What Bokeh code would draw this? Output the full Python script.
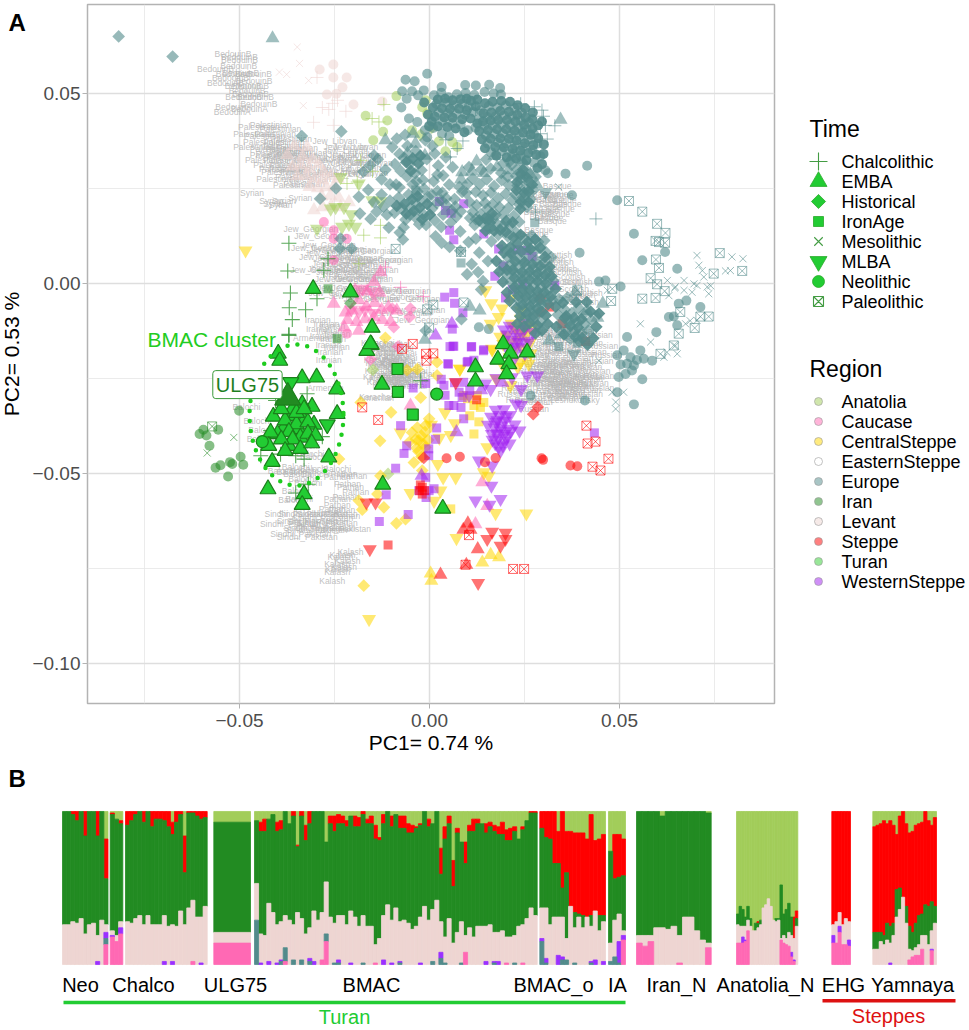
from math import pi

from bokeh.core.properties import value
from bokeh.embed import file_html
from bokeh.layouts import column, row
from bokeh.models import FixedTicker, Label, Range1d
from bokeh.plotting import figure
from bokeh.resources import INLINE

FONT = "Liberation Sans"

# ---- panel A, all coordinates are PC1, PC2 x 1000 ----
europe_hist = [(-81.8,65),(-67.6,59.7),(-23.2,40),(-33.6,38.8),(-9.8,35.9),(-14.6,33.7),(-13.6,32.7),(-11.6,29.9),(-8.8,26),
    (-12.6,27.4),(-24.6,25),(-28.8,22.3),(-18.6,22.8),(-14.6,21.4),(-18.3,18.4),(-15.5,17),(-10.7,14.7),(-7.8,13.4),(-7,11.6),
    (-23.4,11.8),(-23.6,9.2),(-20.5,9.2),(-1,-12.4),(-12.1,20.2),(-10.4,21.8),(-9.2,18.6),(-8.1,22.6),(-7.2,19.8),(-6.3,16.8),
    (-5.5,23.4),(-4.6,20.4),(-3.9,17.6),(-3.2,24.2),(-2.4,21.6),(-1.6,18.2),(-0.9,15.4),(-0.4,22.8),(0.7,19.7),(1.4,16.6),(2.1,24.3),
    (-11.2,18.1),(-6.8,14.8),(-5.1,18.1),(-2.7,15.6),(1.9,21.2),(3.6,18.1),(4.4,22.4),(3.1,14.9),(5.6,16.1),(6.8,20.2),(8.1,13.7),
    (-4.4,26.1),(-1.7,27.2),(1.1,26.9),(-7.9,25.3),(-6.7,33.1),(-5.2,31.4),(-3.6,34.8),(-2.1,29.8),(-0.7,32.7),(0.8,36.2),(2.3,31),
    (3.6,28.4),(-3.8,29),(-5.8,36.2),(-1.1,37.7),(1.4,34.2),(4.3,33.2),(6.1,30.6),(2.1,28.6),(5.2,26),(7.9,25.4),(3.4,23.9),(6.6,22.2),
    (9.7,23.8),(8.2,19),(10.7,17.2),(11.9,15.4),(1.6,12.4),(3.2,10.7),(5.3,9.6),(8.1,8.6),(10.3,10.9),(12.2,11.8),(13.1,8.1),(15.4,5.9),
    (11.1,5.1),(12.8,3),(14.1,0.6),(9.9,2.4),(21.6,31.2),(23.1,30.1),(24.8,31.6),(25.9,29.3),(22.8,28.3),(24.3,27.4),(26.1,26.7),(27.9,28.1),
    (23.2,25.8),(25.2,25),(27.4,24.6),(22.6,23.4),(24.6,22.6),(26.6,22.2),(23.7,20.8),(25.7,20.1),(13.5,18.2),(15.2,19.6),(16.9,17.1),
    (14.1,15.8),(12.2,16.9),(15.8,14.4),(17.8,15.6),(19.3,18.1),(20.8,19.9),(22.2,17.8),(19.4,15.1),(21.3,14.9),(23.6,16.2),(18.1,12.8),
    (20.6,12.4),(22.9,13.3),(24.9,11.9),(26.9,12.6),(28.6,10.9),(30.2,11.3),(25.8,9.6),(27.8,8.6),(30.6,8.3),(32.1,6.9),(16.3,11.1),
    (20.6,6.9),(22.3,7.6),(24.1,6.1),(26.1,7.1),(28.1,6.1),(30.2,5.4),(19.4,4.6),(21.4,5.1),(23.4,4.1),(25.4,4.6),(27.4,3.9),(29.4,3.4),
    (31.4,3.1),(20.3,2.4),(22.4,2.6),(24.4,1.9),(26.4,2.1),(28.4,1.6),(30.4,1),(32.6,0.7),(21.4,0.4),(23.4,-0.1),(25.4,-0.4),(27.4,-0.6),
    (29.4,-0.9),(31.4,-1.6),(22.4,-2.1),(24.4,-2.4),(26.4,-2.7),(28.4,-3.1),(30.4,-3.6),(23.4,-4.3),(25.4,-4.7),(27.4,-5.2),(29.4,-5.6),
    (24.6,-6.8),(26.6,-7.2),(28.6,-7.9),(25.2,-9.1),(27.2,-9.6),(29.1,-10.1),(33.8,-8.2),(35.6,-6.9),(37.4,-7.8),(39.2,-6.4),(40.6,-8),
    (34.8,-10.4),(36.9,-9.9),(38.8,-10.2),(40.9,-10.7),(42.6,-9.6),(36.2,-12.2),(38.1,-12.7),(40,-13.1),(41.8,-12.4),(37.1,-14.6),(39.4,-15.2),
    (32.4,-4.4),(34.1,-4.1),(36.3,-3.7),(13.6,-1.6),(8.4,-9.4),
    (11.4,27.6),(13.2,26.1),(15.1,27.4),(17,25.6),(19,27.2),(20.9,25.9),(12.2,24.1),(14.1,23.2),(16.2,23.9),(18.1,22.4),(20.1,23.6),(21.8,21.9),(10.6,21.4),(12.4,20.6),(14.6,21.2),
    (16.6,20.8),(18.4,20.1),(11.4,18.8),(13.6,29.9),(16.1,30.2),(18.9,29.1),(20.6,28.1),(9.9,26.1),(8.6,24.1),(10.4,30.6),(14.9,32.6),(19.4,31.6),(21.1,32.1),(17.4,18.1),(7.1,17.6),
    (5.9,19.1),(4.4,20.6),(3.1,21.9),(0.6,23.4),(-1.4,24.9),(-3.4,26.9),(-5.9,28.1),(-7.6,29.6),(-9.1,31.4),(-10.4,26.1),(-12.6,23.4),(-13.9,18.9),(-16.1,24.6),(-17.4,29.4),
    (-15.6,31.1),(-7.9,34.1),(-8.6,38.1),(-6.4,39.1)]
europe_hist_core = [(23.1,26.7),(24.1,28.8),(25.6,27.9),(22.9,24.6),(24.9,23.9),(26.1,24.2),(24.1,21.6),(26.1,21.4),(24.6,29.9),(27,26),(23.9,19.6),(14.6,17.1),
    (15.9,16),(13.1,16.6),(16.4,18.4),(14.8,13.9),(17,13.9),(18.6,14.1),(20.2,16.4),(20.1,13.6),(21.9,16.1),(22.1,12.1),(24,12.8),(25.9,10.9),(27.8,11.6),(26.6,9.1),
    (29.1,9.4),(23.1,10.4),(21.3,9.6),(24.2,8.4),(19.1,9.9),(22.6,5.8),(25,5.6),(27.1,5),(29.1,4.6),(20.4,3.6),(21.9,3.6),(24.4,3),(26.4,3.1),(28.4,2.6),(30.4,2.2),
    (22.4,1.4),(24.4,0.9),(26.4,0.9),(28.4,0.6),(30.6,-0.1),(22.4,-0.9),(24.4,-1.3),(26.4,-1.6),(28.4,-2),(30.2,-2.3),(23.4,-3.2),(25.4,-3.5),(27.4,-4),(29.1,-4.4),
    (24.4,-5.6),(26.4,-6),(28.4,-6.6),(25.6,-8),(27.4,-8.4),(26.4,-10.4),(28.4,-11),(29.6,-7.4),(-6.6,20.9),(-4.6,22.1),(-2.6,19.9),(-0.6,20.9),(-6.1,18.4),(-4.1,19.1),
    (-1.9,16.9),(-8.6,20.4),(-3.1,22.9),(0.1,18.1),(-6.1,31.9),(-4.4,32.9),(-2.9,31.6),(-4.9,29.6),(-2.4,33.6),(36,-8.6),(38.1,-9),(40,-9.4),(37.1,-11.1),(39.1,-11.6),
    (35.6,-9.1),(38.4,-14),(40.2,-14.4),(15.6,16.9),
    (19.6,8.1),(21.4,7.9),(30.4,7),(31.6,4.4),(32.1,1.9),(33.2,-1.4),(31.9,-3.4),(31.2,-5.4),(30.6,-8.4),(31.1,-10.6),(33.2,-6.1),(23.9,-8.6),(22.9,-6.4),(21.1,-4.6),(20.4,-2.4),
    (19.3,0.4),(18.4,3.1),(17.6,5.9),(23.1,-10.6),(24.9,-11.4),(27.9,-13.1),(29.6,-12.4),(42.4,-7.4),(43.9,-11.4),(44.6,-7.9),(41.4,-4.9),(38.6,-4.9),(35.1,-5.1),(33.4,-11.4),
    (35.4,-13.4),(43.1,-14.4),(41.6,-16.1)]
europe_neo = [(-6.3,53.6),(-3.9,53.2),(-7.2,50.6),(-4.6,50.6),(-1.5,50.8),(-6,48.6),(-3,49.5),(-7.4,46.3),(-5.4,43.4),(-3.2,42.5),(-1.2,40.3),
    (-0.6,55.2),(-0.6,38.5),(1.2,49.5),(3.1,50.2),(5,49),(7.2,49.8),(9.5,50.1),(11.8,49.6),(14.5,50.4),(16.9,50),(18.8,49.7),(1.8,47.2),(4.2,47.6),
    (6.4,46.9),(8.6,47.3),(10.3,46.5),(2.4,45),(4.8,44.8),(7.1,44.6),(9.4,44.4),(11.6,45.1),(13.4,45.6),(15.6,46.7),(17.9,46.3),(20.1,46.9),
    (22.4,46.1),(24.3,44.9),(13,43.2),(15.2,43.8),(17.4,44),(19.6,44.2),(21.8,44),(24,42.8),(26.2,42.4),(12.1,41),(14.4,41.5),(16.6,41.6),(18.9,41.9),
    (21.2,41.7),(23.4,40.9),(25.6,40.5),(27.5,39.3),(14.8,39),(17.1,39.3),(19.3,39.5),(21.5,39.2),(23.7,38.6),(26,37.8),(28.4,36.8),(15.3,36.8),
    (18,37.1),(20.2,36.9),(22.5,36.4),(24.6,36),(27.1,35.2),(16.2,34.5),(19.1,34.8),(21.7,34.2),(24,33.6),(27.5,31.8),(29.2,33.5),(3.4,42.7),(6,42.2),
    (8.2,41.8),(10.1,40.3),(1,40.9),(3.3,39.4),(5.2,38.8),(9.4,52.2),(12.2,52.1),(15.7,52.3),(18.6,51.4),(3.2,51.7),(30.5,29.8),(31.2,29),
    (41.5,31),(35.8,28.9),(37.5,23.2),(49.4,21.9),(53.8,13.1),(39.5,8.1),(62,8.3),(56,6.1),(65.2,3.9),(44.6,0.5),(46.3,0.8),(50.3,-0.8),(65.6,-5.3),
    (67.6,-4.5),(71.3,-6.2),(63,-8.8),(64.3,-8.7),(65.2,-11),(59.7,-12.8),(52,-14.1),(49.4,-18.9),(51.1,-17.6),(55.5,-17.6),(52.9,-19.4),(56.4,-19.8),
    (58.6,-20.3),(50.3,-21.3),(52,-21.1),(53.8,-21.6),(54.6,-20.1),(53.3,-22.9),(56,-25.2),(49.8,-24.6),(51.6,-23.8),(40.9,-30.8),(49.4,-28.6),
    (53.8,-31.8),(26.6,-29.5),(13,-11.5),(15.6,-12)]
europe_neo_core = [(2.2,48.4),(4.1,48.6),(6.1,48.2),(8.2,48.5),(9.8,48.6),(3.3,46.1),(5.4,45.9),(7.8,46),(9.8,45.6),(0.9,46.3),(1.4,43.9),(3.9,43.7),(6.1,43.6),(8.6,43.2),
    (10.8,43.4),(0.6,42.6),(2.2,41.4),(4.7,41.2),(6.9,40.8),(9.2,39.8),(12.2,46.6),(14.6,47.4),(16.6,47.8),(18.9,48),(21.2,47.8),(23.2,46.9),(25.2,46.1),(27.2,45),(14.2,44.8),
    (16.3,45),(18.6,45.4),(20.9,45.2),(23.1,44.4),(25.3,43.7),(27.1,43.2),(12.6,42.1),(14.1,42.6),(16.1,42.8),(18.1,43),(20.4,43),(22.6,42.6),(24.9,41.8),(27.1,40.8),(28.6,41.6),
    (13.1,40.1),(15.4,40.4),(17.8,40.6),(20.2,40.6),(22.4,40.2),(24.6,39.7),(26.6,39.1),(28.6,38.2),(13.8,37.9),(16.1,38.1),(18.6,38.2),(20.9,38.1),(22.9,37.6),(25.1,36.9),
    (27.3,36.4),(14.6,35.6),(17.3,35.9),(19.6,35.8),(21.9,35.4),(23.9,34.9),(26,34.3),(28.1,33.9),(17.6,33.6),(20.3,33.2),(22.8,32.9),(25.5,32.4),
    (30,34.1),(29.6,31.4),(28.4,30.4),(30.1,36.6),(29.6,42.6),(10.9,48.1),(12.6,48.4),(-0.4,44.4),(-1.4,47.6),(-0.1,41.4)]
europe_emba = [(-41.3,64.5),(-11.6,37.7),(-4.3,39.4),(-3.7,36.8),(-5.8,34.2),(-1.2,33.6),(34.5,43.1),(8.6,29.3),(11.2,29.5),(14.3,29.1),(17.8,30.6),
    (20.8,29.8),(24.4,32.5),(12.4,32.1),(17.1,33.6),(21.8,33.4),(8.3,27.4),(26.6,28.6),(28.1,26.2),(38.4,-2.3),(45.6,-5.3),(41.4,-7.2),(44.2,-9),
    (13.2,-7.1),(10.6,-6.1),(34.6,-13.4),(31.5,-15),(-1.2,-14.8)]
europe_mlba = [(30.5,24),(38,-18.5)]
europe_iron = [(34,-16.6),(38.9,-15.7),(8.3,5.4),(27.7,16),(-3.6,24.6)]
europe_chalco = [(24,47.3),(29.6,45.6),(30.5,41.6),(29.2,39.4),(7.3,35.5),(5.5,33.3),(30,44),(33,41.5),(27.6,46.5),(31,38),(43.8,17),(27.9,18.8),
    (8.8,37.5),(4.3,37.8),(12.1,45.8)]
europe_meso = [(34,25.4),(70.4,7.4),(79.6,7),(82.5,6.5),(77.9,3.3),(79.2,3.4),(70.9,4.8),(71.8,3.4),(67,0.8),(69.6,-0.1),(70.4,-0.5),(73.1,-0.9),
    (73.5,-2.7),(69.1,-2.3),(67,-1.8),(64.7,-0.9),(62.6,0.8),(72.2,1.7),(74,-0.6),(64.5,-1.2),(63,-3.2),(55.5,-10.6),(58.2,-15.4),(44.6,-20.3),
    (46.8,-1.8),(65.2,-18.5),(62.5,-18.1),(64.7,-16.4),(67.4,-10.6),(70.4,-9.7),(48.1,-28.6),(51.1,-28.6),(49,-31.2),(49,-33),(61.7,-19.4),(68.6,-9.8)]
europe_paleo = [(52.5,21.7),(56,18.9),(59.9,15.7),(62.1,13.3),(59.5,11.2),(60.4,10.9),(62,10.7),(59.6,6.3),(60.4,4.1),(58.2,1.4),(59.9,-0.2),(61.9,-2),
    (59.5,-3.8),(56,-4),(76.4,8),(82.3,3.3),(74.8,2.6),(73.5,-8.7),(71.3,-8.7),(65.6,-13.2),(69.8,-11.7),(66,-7.5),(60.8,-18.5),(64.3,-16.3),(48.1,-1.4),
    (47.8,-4.6),(38.9,-1.8),(8.3,8.3),(-8.9,9.1),(-0.6,-6.8),(-0.1,-11.6),(9,-5),(1,-5.6)]
levant_emba = [(-37.4,33.8),(-35.6,36.2),(-33.4,33.4),(-32.2,35.9),(-30.8,32.6),(-36.1,30.8),(-33.9,31.1),(-31.6,30.2),(-29.1,31.4),(-27.8,29.3),
    (-34.8,28.2),(-32.4,28.4),(-30.2,27.6),(-28.1,27.2),(-25.9,28.3),(-24.1,27.6),(-31.6,25.4),(-29.4,25.1),(-27.2,25.3),(-25.1,25.6),(-28.4,22.9),
    (-26.1,23.1),(-23.9,22.6),(-30.4,19.3),(-28.1,20.1),(-25.9,20.4),(-23.4,20.1),(-21.2,21.4)]
levant_neo = [(-28.9,56.3),(-25.3,57.6),(-25.3,54.2),(-21.8,54.2),(-22.9,51.6),(-27,49.7),(-24.5,49.9),(-20,47.1),(-12.4,47.9)]
levant_meso = [(-34.8,62.2),(-34.2,57.9),(-39.5,55.6),(-37.6,55),(-31.8,53.4),(-33.2,46.8)]
levant_chalco = [(-25.5,47.4),(-28.2,46.3),(-24.2,48.2),(-22,45.3),(-30.5,42.4),(-25.3,41.6),(-29.6,54.2),(-26.5,45.8)]
anatolia_neo = [(-8.7,49.3),(-16.8,44.1),(-11.1,42.9),(-12.2,39.9),(-14.8,37.7),(-4.6,40.3),(-1.9,46.4),(-0.6,44.7),(-1,48.2),(2.5,37.4),(6,37.2),(4.2,34.8),(7.3,35.9)]
anatolia_chalco = [(-12,47.1),(-15.1,43.4),(-13.3,42.5),(-18.1,32.4),(-21.7,26.3),(-19,26.7),(-17.3,12.7),(-12.9,12),(-12.9,15.3),(-18.6,5.2),(-15,29.5)]
anatolia_mlba = [(-23.4,28),(-18.6,26.3),(-24.7,20.1),(-22.5,20.1),(-21.2,15.7),(-23,14.9),(-29.6,14.4),(-26,19.7),(-19.5,14.9),(-15.1,21.9),(-12.9,21.6),(-20.6,18.2)]
anatolia_hist = [(-14.9,-22.7),(-10.9,-50.1),(-2.4,39.1),(0.6,41)]
caucase_neo = [(-27.8,16.2),(-25.2,14),(-21.8,11.8),(-25.2,11.8),(-25.2,6.1),(-21.7,-13.2)]
caucase_emba = [(-25.2,-5.3),(-12.9,3),(-14.6,0.4),(-16.4,-2.1),(-13.1,-2.4),(-19.6,-1.8),(-22.1,-7.6),(-20.4,-7.1),(-18.6,-4.4),(-16.6,-6.1),(-14.4,-5.1),
    (-12.6,-6.9),(-10.8,-6.3),(-8.6,-7.1),(-21.6,-9.6),(-19.2,-10.1),(-16.9,-9.4),(-14.6,-8.9),(-12.4,-9.6),(-10.2,-10.1),(-18.6,-12.4),(-22.4,-11.6),
    (13.9,-52.3),(-5,-32.1),(15.2,-58.5),(12.1,-63.3)]
caucase_mlba = [(-17.6,-1.4),(-15.1,-2.1),(-17,-6.9),(-14.8,-7.8),(-18.6,-7.4),(-20.6,-6.9)]
caucase_hist = [(-5,-6.6),(-5.2,-8.8),(-9.4,-11.5),(-9.8,-6.6),(-15.5,-19.9),(-8.3,-16.6)]
caucase_chalco = [(-11.6,4.3),(-7.6,-1),(-1.6,-3.4)]
central_mlba = [(-48.4,8.7),(-15.9,-88.3),(25.5,-60.5),(7.1,-67),(6.9,-51),(3.6,-51),(-5,-55.1),(2.9,-54.5),(1.2,-57.2),(17.4,-60.4),(14.3,-49.7),(15.6,-50.6),
    (6.7,-36.8),(4.1,-33.9),(8,-22.5),(15.2,-43.1),(2.2,-47.5),(-7.6,-39.2),(16.5,-17.2),(14.7,-1.8),(16.3,-5.2),(19.1,-6.6),(24,-7.1),(24,-9.3),(16.1,-10.6),
    (18.2,-8.8),(21.3,-4),(25.7,-11),(27,-11.5),(22.6,-11.5),(24.8,-12.4),(16.5,-17.4),(22.2,-17.6),(24,-20.7),(26.1,-21.1),(8,-22.4),(21.3,-26.8),(17.6,-25.1),
    (20.3,-13.6),(23.1,-15),(26.4,-15.6),(19.4,-15.9),(0.4,-37.2),(2.6,-40.6),(5.6,-39.9),(21.6,-10.6),(23.4,-12.9),(25.4,-13.4),(20.9,-15.6),(18.6,-14),(24.6,-17.2),
    (21.1,-19.4),(26.6,-18.4),(23.2,-21.9),(19.4,-21.6)]
central_hist = [(-11.6,-14.3),(-23.8,-46.2),(-10.1,-33.9),(-13,-41.4),(-18.1,-31.3),(-18.6,-57.1),(-17.7,-59.5),(-12,-58.9),(-8.7,-63.1),(-6.3,-62),(-17.3,-79.5),
    (-4.1,-47.1),(-1.9,-49.2),(-12.9,-50.6),(-13.7,-55.4),(-2.3,-30),(2,-20.7),(-5.9,-22.8),(-3.2,-22.5),(2,-24.2),(-2.8,-41.3),(-4.6,-39.2),(-1.2,-39.1),
    (-3.4,-43.3),(-1.1,-43.1),(-0.1,-35.6),(-1,-37.3),(-3.2,-37.9),(-5.3,-41.7),(-0.4,-41.2),(-2.1,-45.6),(-2.1,-40.1),(-3.6,-41),(-1.6,-42.2),(-2.9,-44.2)]
central_emba = [(0.3,-76.3),(0.5,-78.2),(13.9,-73.4),(16.1,-71.4),(18.3,-72)]
central_iron = [(13.4,-32.6),(11.7,-32.1),(14.3,-31.3),(9,-29.5),(11.7,-39.6),(10,-30.3),(12.6,-29.5),(5.6,-59.3),(10.6,-34.8),(13,-36.4)]
west_iron = [(5,-21.2),(11.1,-16.6),(14.2,-17.7),(6.4,-16.5),(5.4,-16.6),(10.1,-20.5),(-4.3,-27.5),(-1,-26.3),(-7.6,-37.4),(1.9,-38),(1.6,-41),(-6,-42.7),(-6.7,-44.7),
    (-0.2,-43.5),(-0.2,-45.3),(-8.9,-48.6),(-1,-51),(-0.1,-54.5),(-2.8,-54.5),(-0.9,-56.3),(1.2,-54),(-11.4,-55.6),(-5.6,-60.8),(-13.2,-62.6),(5.1,-32.1),(6.4,-32.1),
    (9,-35.6),(6.4,-2.4),(4,-3.6),(6.6,-5.2),(8.8,-7.7),(6,-12),(6.2,-16.5),(11,-16.7),(14.3,-17.4),(11.7,-20.2),(4.8,-21.1),(9.9,-20.7),(3.8,-26.8),(9,-26),
    (2.6,21.6),(4.2,19.2),(5.7,18.5),(9,21),(5.3,14),(6.4,11.5),(14.3,13),(18.2,9.1),(23.1,8.9),(25.5,8.7),(27,7.1),(19.4,4.6),(17.2,1.9),(24.6,-0.2),(33,-0.5),
    (21.8,-1.6),(20,-3.8),(7.8,-28.6),(4.1,-29.4),(8.3,-32.6),(43.4,-39.3),(6.6,-26.1),(8.6,-30),(10.6,-28.1),(3.1,-25.2)]
west_mlba = [(18.7,-38.7),(16.2,-35.1),(17.4,-33.2),(19.6,-33.1),(21.2,-34.6),(15.4,-37.2),(17.6,-36.4),(19.9,-36.1),(22.4,-37.1),(16.4,-39.6),(18.1,-40.7),(20.6,-40.1),
    (17.3,-42.1),(19.3,-42.6),(21.1,-42.1),(18.7,-44),(23,-14),(21.1,-11.1),(24.8,-10.4),(27.2,-12.8),(19.6,-12.1),(21.6,-14.8),(24.2,-13.1),(26.2,-15.1),(23.2,-16.8),
    (20.6,-17.4),(25.1,-18.4),(22.1,-20.1),(28.4,-24.2),(25.7,-24.2),(23.7,-38.7),(13,-46.6),(16.5,-47.9),(16.3,-53.2),(18.7,-56.7),(12.1,-57.1),(15.8,-58.2),
    (21.7,-24.7),(17.6,-24.9),(22.8,-31.6),(24.1,-32),(10.4,-29.4),(14.7,-26.3),(16.1,-27.8),(24.1,-27.8),(17.1,-37.9),(18.9,-37.4),(20.6,-38.2),(17.6,-39.4),(19.6,-39.6),
    (21.4,-38.9),(18.4,-34.6),(20.1,-35),(16.6,-41.1),(19.7,-41.4),(18.2,-42.9),(17.9,-36),(22.6,-12.1),(20.6,-13.4),(25.1,-11.9),(23.4,-15.4),(22.1,-16.6),(25,-15.6)]
west_emba = [(7.1,-39.1),(13.6,-28.1),(19.2,-26.1),(5.9,-10.6),(-2.1,-50.6),(1.6,-13.7)]
steppe_neo = [(4.5,-46),(8,-45.6),(17.4,-45.9),(14.6,-47),(29.9,-46.4),(38.9,-48.1),(29.2,-7.5),(37.1,-47.9),(29.5,-46)]
steppe_mlba = [(-16.6,-57.6),(-14.2,-57.6),(-15.7,-69.9),(12.8,-78.8),(16.5,-65.3),(15.2,-67.2),(20,-65.6),(20,-67.2),(18.7,-69),(6.9,-26)]
steppe_emba = [(10.1,-63.1),(8.9,-64.8),(10.8,-64.8),(12.7,-69.9),(2.9,-76.6),(9.7,-74)]
steppe_iron = [(31.6,-6.2),(34.9,-10.6),(41.1,-15.2),(-10.9,-68.8),(-1.9,-53.6),(-2.6,-54.5),(-1.3,-54.5),(-1.9,-55.4),(-2.4,-53),(12.4,-30.6)]
steppe_hist = [(29.2,-3.8),(28.5,-32.5),(27.3,-34.4),(-1.5,-45.9)]
steppe_paleo = [(-17.7,-32.6),(-13.5,-35.9),(-7.2,-17.2),(-4.4,-15.9),(-0.9,-18.5),(1,-18.4),(-0.8,-20.3),(10.4,-66.2),(9.5,-74),(22,-75.1),(24.9,-75.1),(41.3,-37.4),
    (41.6,-42.1),(43.7,-41.6),(42.9,-48.2),(45,-49.2),(47.1,-46.1)]
iran_neo = [(-50.1,-33.5),(-60.5,-39.6),(-59.5,-38.5),(-58.7,-40),(-55.6,-38.5),(-57.9,-42.7),(-56.3,-48.5),(-55,-47.8),(-52.5,-47),(-51.9,-47.5),(-49,-47.7),(-49.7,-45.6),(-53,-50.8)]
iran_meso = [(-51.5,-40.5),(-58.5,-44.6)]
iran_iron = [(-26.7,-1.4),(-24.3,-14.5)]
iran_hist = [(-20.8,-5.2)]
iran_paleo = [(-57.2,-37.6)]
turan_chalco = [(-37,10.6),(-37.3,3.3),(-36.6,-2.5),(-29.6,-4),(-36.9,-6.4),(-32.6,-6.9),(-36.1,-9.5),(-37,-13.4),(-26.7,6.5),(-27.8,3.5),(-37,-13.7),(-32.2,-29),(-40.5,-30.8),
    (-28.2,-40.3),(-44.4,-45.3),(-39.2,-44.9),(-35.2,-45.3),(-33,-46.2),(-31.9,-52.8),(-35.2,-55.1),(-41.8,-38.7),(-2.3,-25.6)]
turan_emba = [(-39.8,-18.4),(-39.4,-20.3),(-33.5,-24.9),(-29.7,-24.7),(-24.4,-27.8),(-30.9,-32.4),(-24.3,-34.3),(-41.1,-35),(-36.5,-34.8),(-33.5,-31.7),(-30.4,-37.1),(-34.5,-38.3),
    (-38.5,-38.3),(-40,-39.6),(-41.8,-39.2),(-37,-42.7),(-42.3,-42.7),(-26.5,-45.7),(-41.4,-46.9),(-42.5,-54.1),(-33,-55.4),(-33.5,-58.2),(-15.3,-16.1),(-16.5,-17.7),(-12.5,-26.6),
    (-12.3,-52.9),(3.5,-59.2),(12.1,-22),(12.1,-25.7),(19.4,-15.9),(21.3,-18.4),(25.7,-18.1),(18,-20),(20.9,-21.2),(20.3,-23.8),(-30.6,-1.4),(-20.8,-2.3),(-15.1,-11.6),(-15.5,-15.9),
    (-36,-33),(-38,-36),(-33,-36),(-35,-37),(-32,-36.5),(-37,-39),(-34,-40.5),(-36,-41),(-39,-41),(-32,-39.5),(-30,-40),(-38,-44),(-34,-43.5),(-31,-42),(-35,-34),(-33,-33),(-39,-33)]
turan_mlba = [(-36.5,-26),(-26.9,-37.1)]
turan_iron = [(-8.4,-22.5),(-8.3,-28.5),(-4.4,-34.5)]
turan_neo = [(1.9,-29.1),(-44,-41.6)]
ulg75 = [(-37.3,-30)]
cluster_ellipse = (-35, -34.6, 24.7, 37.1)

# reference populations drawn as faint text
bedouin_b = [(-51.7,60.5),(-50,58.9),(-50.2,57.1),(-56.3,56.5),(-49.7,55.4),(-52.4,54.1),(-46.2,53.4),(-53.7,52.7),(-47.1,51.9),(-48,50.6),(-47.1,49.8),(-48.9,49.1),(-45.8,49.1),
    (-44.9,47.1),(-51.4,55.1),(-46.3,55.2),(-49,52),(-50,59.6)]
bedouin_a = [(-51.5,46.4),(-51.9,45.1),(-47.4,45.9)]
palestinian = [(-41.8,41.6),(-44.9,41.2),(-39.2,40.7),(-46.2,39.4),(-40.6,39.4),(-43.6,37.2),(-38.3,37.2),(-46.2,35.9),(-41.8,35.5),(-36.6,34.6),(-41.8,33.7),(-34.8,33.7),(-43.1,32.4),
    (-38.3,32.4),(-32.2,32.4),(-40.9,31.1),(-36.6,31.1),(-31.3,30.6),(-38.8,29.3),(-33.9,29.3),(-29.6,28.9),(-40.1,27.4),(-33,26.3),(-35.7,25.8),(-40.3,34.1),(-37.6,35.4),(-39.4,30.1),
    (-35.1,28),(-31.4,27.6),(-36.4,38),(-43.4,38.8),(-38.3,36.1),(-34.8,35.6),(-32.4,34.4),(-37.4,33.4),(-36.8,30)]
jew_north = [(-24.9,37.4),(-22,36),(-19.4,35.9),(-24.9,33.3),(-20.8,33.7),(-17.3,33.8),(-23.4,32),(-20,31.8),(-15.6,31.8),(-22.6,30.2),(-18.6,30.3),(-24,29.4),(-20.6,28.8),(-16.8,29),
    (-28.5,33),(-22.1,34.9),(-18.6,32.6)]
syrian = [(-46.7,23.7),(-41.6,21.6),(-40.6,20.8),(-39.2,20.6),(-38.3,21.8),(-34,22.4)]
druze_mix = [(-31.2,14.4),(-28.4,12.4),(-26.6,10.2),(-29.2,9.4),(-24.4,9.1),(-21.2,8.8),(-27.1,6.9),(-23.4,6.6),(-19.6,6.8),(-16.1,8.6),(-14.6,6.2),(-11.6,6.1),(-29.4,3.5),(-24.9,3.8),
    (-21.6,4.8),(-18.4,3.6),(-15.4,3.5),(-23,1.2),(-19.8,1.1),(-16.8,1.1),(-22.4,-1.1),(-18.6,-1.1),(-14.6,-1.4),(-24.6,-2.4),(-19.2,-3.4),(-15.4,-4.1),(-21.1,5.9),(-17.8,5),(-23.8,5.2),
    (-20.4,2.6),(-18.2,2.1),(-25.6,8),(-22.6,3.1),(-11.2,-1.9),(-6.8,-2.1),(-4.4,-4.1),(-8.6,-3.6),(-3.1,-6.9),(-6.6,-7.8),(-1.9,-9.6)]
iranian = [(-29.4,-9.6),(-27.1,-10.6),(-25.6,-11.1),(-29.1,-12.1),(-26.4,-12.4),(-24.2,-13.4),(-28.1,-13.9),(-25.4,-14.6),(-26.6,-16.1),(-24.4,-16.6),(-26.1,-18.1),(-26.5,-20.2)]
karachai = [(-13.6,-15.6),(-11.6,-16.1),(-9.6,-15.9),(-7.8,-18.4),(-13.4,-18.1),(-11.2,-18.4),(-9.1,-19.1),(-12.9,-20.1),(-10.6,-20.6),(-8.1,-20.4),(-6.1,-21.1),(-11.8,-21.6),(-9.4,-22.1),
    (-7.2,-22.6),(-4.9,-22.9),(-12.6,-23.1),(-10.1,-23.6),(-7.8,-24.1),(-5.6,-24.2),(-3.1,-23.9),(-11.4,-25.1),(-8.6,-25.4),(-6.1,-25.8),(-10.6,-26.6),(-14.1,-29.9),(-5.1,-27.1),(-13.1,-24.7),
    (-12.1,-17.1),(-10.4,-17.3),(-8.6,-17.1),(-11.6,-19.3),(-9.8,-19.9),(-7.6,-19.6),(-12.4,-21),(-10.1,-21.4),(-8.6,-21.1),(-6.6,-23.3),(-9.1,-24.6),(-11.1,-24.2),(-6.9,-24.9),(-4.4,-25.1),
    (-9.6,-26),(-7.4,-26.4),(-12.1,-26)]
balochi = [(-48.2,-32.4),(-45.3,-36.3),(-44,-38.5),(-44.4,-40.9),(-32.6,-42.7),(-31.3,-44.9),(-30.4,-45.7),(-35.2,-48.4),(-33,-49.3),(-34.8,-50.1),(-36.6,-49.7),(-30.4,-48.8),(-24.3,-48.8),
    (-38.9,-49.2),(-33.5,-51.5),(-29.9,-50.2),(-35.2,-54.7),(-34.3,-56.7),(-36.1,-56.9),(-31.9,-52.6)]
pathan = [(-22.5,-50.1),(-19.9,-50.6),(-24.3,-51),(-21.6,-52.8),(-20.8,-53.6),(-22,-56.3),(-24.3,-56.7),(-24.3,-58.4),(-25.1,-60.6),(-21.8,-61.3),(-19.4,-54.9),(-25.6,-59.4),(-23.1,-59.6)]
sindhi = [(-31.8,-60.6),(-26.9,-60.6),(-32.2,-62.6),(-26.9,-63.1),(-36.6,-63.3),(-30.4,-64.2),(-23.4,-64.6),(-33.9,-65.9),(-32.2,-66.8),(-29.4,-62.7),(-28.1,-61.8),(-35.4,-60.6),(-27.4,-64.4),(-29.6,-64.9)]
kalash = [(-20.8,-70.7),(-23.4,-72),(-21.6,-72.9),(-24.3,-73.8),(-22.5,-74.7),(-24.3,-76),(-25.6,-78.4),(-22.9,-71.3),(-24.1,-75)]
basque = [(32.7,23.6),(34.9,21.9),(36.2,20.8),(31,20.1),(33.2,18.3),(30.1,17.5),(32.3,16.4),(28.8,14),(27.5,13.1),(34.4,19.6),(29.6,22.2),(31.9,21.9),(28.6,18.8),(33.6,25.6),(30.8,23.6),
    (32.6,20.8),(34.1,23.4),(30.3,19.1),(31.4,17.2)]
scottish = [(33.6,7.4),(34,5.6),(34.9,3.9),(32.7,4.3),(37.1,1.7),(38.9,0.4),(38,-1.4),(39.7,-3.1),(40.6,-4.9),(36.1,3.1),(31.9,6.1),(35.6,0.4),(41.6,-2.4),(37.9,-3.9)]
russian = [(28.4,-12.4),(31.6,-12.8),(35.1,-12.1),(40.1,-12.4),(44.2,-13.6),(28.4,-14.1),(32.2,-15.3),(36.6,-14.8),(41.6,-15.7),(45.6,-16.4),(28.6,-16.6),(32.1,-17.8),(37.2,-17.4),(42.6,-18.1),
    (46.6,-18.9),(27.4,-18.9),(30.4,-19.4),(34.4,-19.8),(39.1,-19.7),(44.4,-20.4),(28.2,-21.1),(32.4,-21.4),(36.6,-21.6),(41.4,-22.1),(27.4,-22.9),(31.6,-23.4),(35.6,-23.4),(40.1,-23.9),
    (44.6,-24.4),(29.6,-24.9),(34.1,-25.4),(38.6,-25.6),(43.1,-26.1),(25.6,-26.4),(31.1,-27.1),(36.1,-27.6),(41.1,-27.9),(24.4,-28.4),(33.1,-29.3),(38.1,-29.6),(28.4,-31.2),(27.4,-33.1),(24.1,-30.6),
    (30.1,-13.4),(33.6,-14.1),(38.1,-13.4),(30.4,-15.9),(34.6,-16.6),(39.6,-16.1),(30.1,-18.1),(35.1,-18.4),(40.1,-18.6),(29.6,-20.4),(33.6,-20.6),(38.6,-20.6),(29.1,-22.1),(34.1,-22.4),(38.6,-22.6),
    (31.1,-24.1),(36.6,-24.6),(41.6,-25.1),(32.6,-26.1),(37.6,-26.4),(34.1,-28.4),(30.6,-21.9),(35.1,-21.1),(39.9,-21.3),(43.6,-22.9),(30.1,-23.1),(33.1,-23.9),(37.9,-24.1),(42.1,-24.6),(33.6,-25.1),
    (36.4,-25.8),(40.4,-26.4),(30.4,-26.1),(28.6,-25.1),(35.1,-26.6),(39.1,-27.1),(32.1,-28.2),(36.9,-28.6),(41.6,-29.1),(35.1,-30.1),(30.9,-30.1),(44.6,-27.4)]
leshukonsky = [(30.1,-27.6),(29.1,-29.1),(33.6,-30.6)]
lesser_labels = [(-31.1,-14.4),(-27.4,-27.4),(-14.1,-30.1)]

pop_labels = [("BedouinB", bedouin_b), ("BedouinA", bedouin_a), ("Palestinian", palestinian), ("Jew_Libyan", jew_north), ("Syrian", syrian),
              ("Jew_Georgian", druze_mix), ("Iranian", iranian), ("Karachai", karachai), ("Balochi", balochi), ("Pathan", pathan),
              ("Sindhi_Pakistan", sindhi), ("Kalash", kalash), ("Basque", basque), ("Scottish", scottish), ("Russian", russian),
              ("Russian_Leshukonsky", leshukonsky), ("Armenian", lesser_labels)]

region_colors = {"Anatolia": "#A2CD5A", "Caucase": "#FF69B4", "CentralSteppe": "#FFD700", "EasternSteppe": "#FFFFFF", "Europe": "#528B8B",
                 "Iran": "#228B22", "Levant": "#EED5D2", "Steppe": "#FF0000", "Turan": "#32CD32", "WesternSteppe": "#A020F0"}
time_markers = {"Chalcolithic": ("cross", 13), "EMBA": ("triangle", 14), "Historical": ("square", 9), "IronAge": ("square", 9), "Mesolithic": ("x", 10),
                "MLBA": ("inverted_triangle", 14), "Neolithic": ("circle", 10), "Paleolithic": ("square_x", 9)}
legend_sizes = {"Chalcolithic": 18, "EMBA": 17, "Historical": 10, "IronAge": 10, "Mesolithic": 12, "MLBA": 17, "Neolithic": 12, "Paleolithic": 10}
OPEN_MARKERS = ("cross", "x", "square_x")

# ---- panel B ----
group_names = ["Neo", "Chalco", "ULG75", "BMAC", "BMAC_o", "IA", "Iran_N", "Anatolia_N", "EHG", "Yamnaya"]
group_label_pos = [80, 143, 235, 371, 553, 617, 676, 765, 843, 912]
facet_sizes = [11, 3, 20, 1, 69, 16, 4, 13, 24, 6, 20]
facet_widths = [45.5, 12.6, 81.7, 36.7, 282.7, 65.7, 17, 74.7, 61.3, 18.7, 63.7]
facet_gaps = [2.2, 2.7, 6.6, 4, 2.6, 3, 11, 25.3, 34, 22.3]

# percent of each bar: thin layers at the bottom, then the tops of the next layers
pink = [0,0,0,0,0,0,0,0,0,0,13,  18,15,20,
    0,0,0,0,0,0,0,0,0,0,0,0,0,0,0,0,2,0,0,0,  14,
    0,0,0,0,0,0,0,2,0,0, 0,0,0,0,0,0,3,15,0,0, 0,0,0,0,0,0,0,0,0,1, 0,0,0,0,0,0,0,0,0,0, 0,0,0,0,0,0,0,0,0,0, 0,8,0,0,0,0,0,0,0,0, 0,1,0,0,0,1,0,0,0,
    0,0,0,0,0,0,0,0,0,0,0,0,0,0,0,0,  0,0,0,16,  14,12,15,0,0,0,0,1,0,0,0,0,11,
    14,14,14,15,22,0,0,0,0,0,0,0,0,0,0,0,0,16,14,13,12,5,2,0,  14,14,21,13,13,12,
    0,0,0,0,0,0,0,0,0,0,0,3,5,6,6,10,0,0,9,0]
teal = [0,0,0,0,0,0,0,0,0,0,4,  0,0,0,
    0,0,0,0,0,0,0,0,0,0,0,0,0,0,0,0,0,0,0,0,  0,
    29,0,0,0,0,0,2,9,0,3, 0,3,0,2,0,0,0,5,0,1, 1,0,0,0,0,0,1,0,0,0, 0,0,0,0,0,1,0,0,0,0, 0,0,0,2,0,4,1,0,0,0, 1,0,0,0,0,0,0,0,1,0, 0,0,0,1,0,0,0,0,0,
    15,1,0,0,0,3,3,0,1,0,0,0,1,0,0,0,  2,5,1,0,  0,0,0,0,0,0,0,0,0,0,0,0,0,
    0,0,0,0,0,0,0,0,0,0,0,0,0,0,0,0,0,0,0,0,0,0,0,0,  0,0,0,0,0,0,
    0,0,0,0,0,0,0,0,0,0,0,0,0,0,0,0,0,0,0,0]
purple = [0,0,0,0,0,0,0,0,2,0,4,  1,0,4,
    0,0,0,0,0,0,0,0,0,2,0,2,0,0,0,0,0,0,1,0,  0,
    0,1,0,2,0,1,1,0,0,0, 0,0,0,2,2,0,0,0,0,0, 2,0,0,1,0,0,0,0,0,0, 0,3,0,1,0,1,0,0,0,0, 1,0,0,0,0,4,0,0,0,0, 0,0,0,0,0,0,2,0,1,2, 0,0,0,0,0,0,0,0,0,
    2,3,0,0,6,2,0,0,0,0,0,0,1,3,0,2,  0,0,14,3,  0,0,0,0,0,0,0,0,0,0,0,0,0,
    0,0,4,1,0,0,0,0,0,0,0,0,0,0,0,0,0,0,0,0,0,3,1,0,  5,0,4,0,0,4,
    0,0,0,0,0,1,0,0,0,0,0,0,0,0,0,0,0,0,1,0]
rose_top = [26,26,28,27,30,20,26,27,19,29,26,  22,19,28,
    28,27,30,32,26,32,26,26,26,32,25,26,25,35,26,37,42,31,31,38,  21,
    53,20,19,40,34,26,28,32,29,26, 34,30,20,24,35,29,34,54,31,27, 32,32,26,35,31,25,32,25,25,13, 17,32,39,29,37,28,29,27,23,25, 31,38,29,36,42,28,18,30,14,21,
    28,19,24,18,25,25,25,26,21,21, 22,18,18,19,25,26,30,37,32,
    37,37,26,31,31,31,17,38,24,31,24,31,25,35,22,28,  14,29,33,22,  19,19,19,24,24,23,25,19,31,31,22,16,14,
    26,25,25,25,29,25,22,22,24,26,37,39,43,38,29,28,29,17,19,17,21,19,17,25,  26,28,34,26,30,28,
    10,10,15,13,16,14,19,31,36,44,27,10,9,11,13,19,19,13,22,27]
green_top = [100,100,98,94,100,84,100,100,84,100,56,  98,95,92,
    91,94,98,100,93,100,90,95,95,94,90,85,93,98,60,99,99,97,95,96,  93,
    94,87,87,95,98,87,88,100,92,97, 77,97,81,92,100,100,100,80,92,87, 92,92,90,97,90,90,98,92,92,82, 81,92,100,90,98,89,89,86,86,89, 91,100,90,92,100,59,82,92,51,86,
    80,66,87,87,92,92,86,90,87,85, 85,81,81,87,82,88,94,99,99,
    89,83,82,66,66,50,60,38,34,33,32,31,32,34,32,32,  74,56,57,58,  100,100,100,100,97,100,100,100,100,100,100,100,99,
    33,38,36,31,38,30,22,27,27,29,37,39,43,38,29,30,30,52,33,36,40,31,17,30,  26,28,34,26,30,28,
    21,21,21,19,27,25,27,49,50,44,38,25,21,27,32,33,39,38,41,38]
red_top = [100,100,100,100,100,100,100,100,100,100,82,  99,95,94,
    100,100,100,100,100,100,100,100,100,100,100,93,100,100,84,100,100,100,100,100,  93,
    94,93,95,95,98,93,94,100,92,100, 78,100,91,100,100,100,100,80,97,97, 98,97,94,97,97,96,100,95,97,91, 83,98,100,97,98,97,97,92,91,90, 92,100,95,92,100,76,90,97,68,89,
    80,80,91,95,95,92,92,93,91,90, 93,88,89,90,82,90,94,100,100,
    100,100,100,100,87,100,87,87,86,86,86,82,98,81,82,85,  74,85,85,82,  100,100,100,100,97,100,100,100,100,100,100,100,99,
    33,38,36,31,38,30,22,27,28,29,37,39,43,38,29,30,30,52,33,36,40,29,31,35,  100,100,100,100,100,100,
    90,91,92,94,92,94,91,85,97,100,92,86,87,91,92,93,100,94,91,96]
layer_colors = {"pink": "#FF69B4", "teal": "#528B8B", "purple": "#9B30FF", "rose": "#EED5D2", "green": "#228B22", "red": "#FF0000", "olive": "#A2CD5A"}


def split(points):
    return [v[0] / 1000 for v in points], [v[1] / 1000 for v in points]


def add_points(p, region, time, points, alpha=0.55):
    xs, ys = split(points)
    marker, size = time_markers[time]
    color = region_colors[region]
    angle = pi / 4 if time == "Historical" else 0
    if marker in OPEN_MARKERS:
        return p.scatter(xs, ys, marker=marker, size=size, fill_color=None, line_color=color, line_alpha=0.65, line_width=0.9)
    return p.scatter(xs, ys, marker=marker, size=size, angle=angle, fill_color=color, fill_alpha=alpha, line_color=None)


def add_turan(p, time, points, size):
    xs, ys = split(points)
    marker = time_markers[time][0]
    if marker in OPEN_MARKERS:
        return p.scatter(xs, ys, marker=marker, size=size, fill_color=None, line_color="#228B22", line_alpha=0.75, line_width=1.1)
    return p.scatter(xs, ys, marker=marker, size=size, fill_color="#22CC33", line_color="#1B7F1B", line_width=1.2)


p = figure(width=779, height=761, x_range=Range1d(-0.09, 0.0908), y_range=Range1d(-0.1105, 0.0734),
           toolbar_location=None, output_backend="svg", min_border_left=90, min_border_right=2,
           min_border_top=1, min_border_bottom=61, frame_align=False, margin=(0, 0, 0, -3))
p.outline_line_color = "#B3B3B3"
p.outline_line_width = 1.5
p.xaxis.ticker = FixedTicker(ticks=[-0.05, 0, 0.05], minor_ticks=[-0.075, -0.025, 0.025, 0.075])
p.yaxis.ticker = FixedTicker(ticks=[-0.10, -0.05, 0, 0.05], minor_ticks=[-0.075, -0.025, 0.025])
p.xaxis.major_label_overrides = {-0.05: "\u22120.05", 0: "0.00", 0.05: "0.05"}
p.yaxis.major_label_overrides = {-0.10: "\u22120.10", -0.05: "\u22120.05", 0: "0.00", 0.05: "0.05"}
p.xaxis.axis_label = "PC1= 0.74 %"
p.yaxis.axis_label = "PC2= 0.53 %"
for ax in (p.xaxis[0], p.yaxis[0]):
    ax.axis_line_color = None
    ax.major_tick_line_color = "#B3B3B3"
    ax.major_tick_out = 5
    ax.major_tick_in = 0
    ax.minor_tick_line_color = None
    ax.major_label_text_font = FONT
    ax.major_label_text_font_size = "19px"
    ax.major_label_text_color = "#4D4D4D"
    ax.axis_label_text_font = FONT
    ax.axis_label_text_font_size = "21px"
    ax.axis_label_text_font_style = "normal"
    ax.axis_label_text_color = "#000000"
p.xaxis[0].major_label_standoff = 5
p.xaxis[0].axis_label_standoff = 1
p.yaxis[0].major_label_standoff = 2
p.yaxis[0].axis_label_standoff = 6
for g in (p.xgrid[0], p.ygrid[0]):
    g.grid_line_color = "#DEDEDE"
    g.grid_line_width = 1.5
    g.minor_grid_line_color = "#E6E6E6"
    g.minor_grid_line_width = 0.8

for name, points in pop_labels:
    xs, ys = split(points)
    p.text(xs, ys, text=[name] * len(points), text_font=value(FONT), text_font_size="8.5px", text_color="#B4B4B4", text_alpha=0.85,
           text_align="center", text_baseline="middle")

add_points(p, "Levant", "EMBA", levant_emba)
add_points(p, "Levant", "Neolithic", levant_neo)
add_points(p, "Levant", "Mesolithic", levant_meso)
add_points(p, "Levant", "Chalcolithic", levant_chalco)
add_points(p, "Anatolia", "Neolithic", anatolia_neo)
add_points(p, "Anatolia", "Chalcolithic", anatolia_chalco)
add_points(p, "Anatolia", "MLBA", anatolia_mlba)
add_points(p, "Anatolia", "Historical", anatolia_hist)
add_points(p, "Caucase", "Neolithic", caucase_neo)
add_points(p, "Caucase", "EMBA", caucase_emba)
add_points(p, "Caucase", "MLBA", caucase_mlba)
add_points(p, "Caucase", "Historical", caucase_hist)
add_points(p, "Caucase", "Chalcolithic", caucase_chalco)
add_points(p, "CentralSteppe", "MLBA", central_mlba)
add_points(p, "CentralSteppe", "Historical", central_hist)
add_points(p, "CentralSteppe", "EMBA", central_emba)
add_points(p, "CentralSteppe", "IronAge", central_iron)
add_points(p, "WesternSteppe", "IronAge", west_iron)
add_points(p, "WesternSteppe", "MLBA", west_mlba)
add_points(p, "WesternSteppe", "EMBA", west_emba)
add_points(p, "Steppe", "Neolithic", steppe_neo)
add_points(p, "Steppe", "MLBA", steppe_mlba)
add_points(p, "Steppe", "EMBA", steppe_emba)
add_points(p, "Steppe", "IronAge", steppe_iron)
add_points(p, "Steppe", "Historical", steppe_hist)
add_points(p, "Steppe", "Paleolithic", steppe_paleo)
add_points(p, "Europe", "Historical", europe_hist, 0.6)
add_points(p, "Europe", "Historical", europe_hist_core, 0.9)
add_points(p, "Europe", "Neolithic", europe_neo, 0.6)
add_points(p, "Europe", "Neolithic", europe_neo_core, 0.9)
add_points(p, "Europe", "EMBA", europe_emba)
add_points(p, "Europe", "MLBA", europe_mlba)
add_points(p, "Europe", "IronAge", europe_iron)
add_points(p, "Europe", "Chalcolithic", europe_chalco)
add_points(p, "Europe", "Mesolithic", europe_meso)
add_points(p, "Europe", "Paleolithic", europe_paleo)
add_points(p, "Iran", "Neolithic", iran_neo)
add_points(p, "Iran", "Mesolithic", iran_meso)
add_points(p, "Iran", "IronAge", iran_iron)
add_points(p, "Iran", "Historical", iran_hist)
add_points(p, "Iran", "Paleolithic", iran_paleo)
add_turan(p, "Chalcolithic", turan_chalco, 15)
add_turan(p, "EMBA", turan_emba, 16)
add_turan(p, "MLBA", turan_mlba, 16)
add_turan(p, "IronAge", turan_iron, 11)
add_turan(p, "Neolithic", turan_neo, 12)
ux, uy = split(ulg75)
p.scatter(ux, uy, marker="triangle", size=26, fill_color="#228B22", line_color="#1B7F1B", line_width=1.2)
ex, ey, ew, eh = cluster_ellipse
p.ellipse([ex / 1000], [ey / 1000], width=ew / 1000, height=eh / 1000, fill_color=None, line_color="#1FCC1F", line_width=4.5,
          line_dash="0 10", line_cap="round")

p.add_layout(Label(x=-0.0742, y=-0.0147, text="BMAC cluster", text_font=FONT, text_font_size="21px", text_color="#22CC22",
                   text_baseline="middle"))
p.add_layout(Label(x=-0.0479, y=-0.0266, text="ULG75", text_font=FONT, text_font_size="20px", text_color="#1F7F1F", text_align="center",
                   text_baseline="middle", background_fill_color="#FFFFFF", border_line_color="#3A9A3A", padding=3, border_radius=3))

# panel letter A sits over the left margin of the map
a = figure(width=40, height=40, x_range=Range1d(0, 40), y_range=Range1d(40, 0), toolbar_location=None, output_backend="svg",
           min_border=0, frame_align=False, margin=(0, 736, 0, -776), background_fill_alpha=0, border_fill_alpha=0)
a.axis.visible = False
a.grid.visible = False
a.outline_line_color = None
a.text([8], [19], text=["A"], text_font=value(FONT), text_font_size="24px", text_font_style="bold", text_baseline="middle")

# legend panel to the right of the map, its scales run in page pixels
k = figure(width=193, height=761, x_range=Range1d(776, 969), y_range=Range1d(764, 3), toolbar_location=None, output_backend="svg",
           min_border=0, frame_align=False)
k.axis.visible = False
k.grid.visible = False
k.outline_line_color = None
k.text([809, 809], [128, 368], text=["Time", "Region"], text_font=value(FONT), text_font_size="23px", text_baseline="middle", text_color="#000000")
for i, (time, (marker, _)) in enumerate(time_markers.items()):
    y = 161 + 20 * i
    if marker in OPEN_MARKERS:
        k.scatter([818], [y], marker=marker, size=legend_sizes[time], fill_color=None, line_color="#228B22", line_alpha=0.85, line_width=1.1)
    else:
        k.scatter([818], [y], marker=marker, size=legend_sizes[time], angle=pi / 4 if time == "Historical" else 0,
                  fill_color="#22CC33", line_color="#2AA82A", line_width=0.8)
    k.text([841], [y], text=[time], text_font=value(FONT), text_font_size="18px", text_baseline="middle", text_color="#000000")
for i, (region, color) in enumerate(region_colors.items()):
    y = 401 + 20 * i
    k.scatter([818], [y], marker="circle", size=8, fill_color=color, fill_alpha=0.5, line_color="#999999", line_alpha=0.6)
    k.text([841], [y], text=[region], text_font=value(FONT), text_font_size="18px", text_baseline="middle", text_color="#000000")

# panel B: bar x comes from the facet sizes, y is percent
b = figure(width=969, height=264, x_range=Range1d(0, 969), y_range=Range1d(-41.8, 130.7), toolbar_location=None, output_backend="svg",
           min_border=0, frame_align=False)
b.axis.visible = False
b.grid.visible = False
b.outline_line_color = None

lefts, rights = [], []
x = 62.0
for i, (n, w) in enumerate(zip(facet_sizes, facet_widths)):
    for j in range(n):
        lefts.append(x + w * j / n)
        rights.append(x + w * (j + 1) / n)
    x += w + (facet_gaps[i] if i < len(facet_gaps) else 0)

s1 = pink
s2 = [a_ + c for a_, c in zip(s1, teal)]
s3 = [a_ + c for a_, c in zip(s2, purple)]
olive_top = [100] * len(red_top)
layers = [("olive", red_top, olive_top), ("red", green_top, red_top), ("green", rose_top, green_top), ("rose", s3, rose_top),
          ("purple", s2, s3), ("teal", s1, s2), ("pink", [0] * len(s1), s1)]
for name, lower, upper in layers:
    c = layer_colors[name]
    keep = [h for h, (lo, hi) in enumerate(zip(lower, upper)) if hi > lo]
    b.quad(left=[lefts[h] for h in keep], right=[rights[h] for h in keep], bottom=[lower[h] for h in keep], top=[upper[h] for h in keep],
           fill_color=c, line_color=c, line_width=0.8)

b.text(group_label_pos, [-13.7] * len(group_names), text=group_names, text_font=value(FONT), text_font_size="20px", text_align="center",
       text_baseline="middle", text_color="#000000")
b.segment([63], [-24.8], [625], [-24.8], line_color="#22CC33", line_width=3.5)
b.segment([822], [-23.7], [955], [-23.7], line_color="#DD1111", line_width=3.5)
b.text([344, 888], [-34, -33.5], text=["Turan", "Steppes"], text_font=value(FONT), text_font_size="20px", text_align="center",
       text_baseline="middle", text_color=["#22CC33", "#DD1111"])
b.text([8], [121.6], text=["B"], text_font=value(FONT), text_font_size="24px", text_font_style="bold", text_baseline="middle")

page = column(row(p, a, k, spacing=0), b, spacing=0, margin=(3, 0, 0, 0))
open("out.html", "w").write(file_html(page, INLINE))
